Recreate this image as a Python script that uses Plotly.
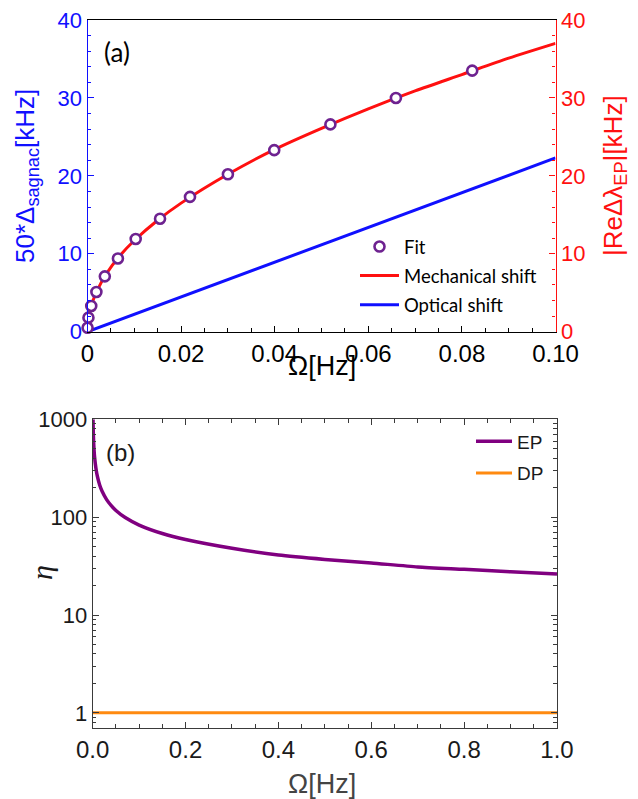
import math
import plotly.graph_objects as go

W, H = 638, 799

# ---------------- data: panel (a) ----------------
omega_curve = [0.0, 0.0002, 0.0005, 0.001, 0.002, 0.004, 0.007, 0.01, 0.015, 0.02,
               0.03, 0.04, 0.05, 0.06, 0.07, 0.08, 0.09, 0.1]
mech_shift = [0.0, 1.7, 2.6, 3.7, 5.2, 7.4, 9.8, 11.7, 14.3, 16.5,
              20.2, 23.4, 26.1, 28.6, 30.9, 33.0, 35.1, 37.0]
omega_fit = [0.00002, 0.0002, 0.0008, 0.0019, 0.0037, 0.0065, 0.0103, 0.0155,
             0.0219, 0.030, 0.0399, 0.0519, 0.0659, 0.0822]
fit_vals = [0.5, 1.8, 3.3, 5.1, 7.1, 9.4, 11.9, 14.5, 17.3, 20.2, 23.3, 26.6, 30.0, 33.5]
omega_opt = [0.0, 0.1]
opt_shift = [0.0, 22.3]

# ---------------- data: panel (b) ----------------
omega_b = [0.0007, 0.001, 0.002, 0.004, 0.007, 0.01, 0.015, 0.02, 0.03, 0.04, 0.05,
           0.07, 0.1, 0.15, 0.2, 0.3, 0.4, 0.5, 0.6, 0.7, 0.8, 0.9, 1.0]
eta_ep = [1000, 830, 590, 415, 315, 262, 213, 185, 151, 131, 117,
          99, 83, 68, 59, 48, 41, 37, 34, 31, 29.3, 27.6, 26.2]
omega_dp = [0.0, 1.0]
eta_dp = [1.0, 1.0]

xa_ticks = [0, 0.02, 0.04, 0.06, 0.08, 0.10]
xa_text = ["0", "0.02", "0.04", "0.06", "0.08", "0.10"]
ya_ticks = [0, 10, 20, 30, 40]
xb_ticks = [0.0, 0.2, 0.4, 0.6, 0.8, 1.0]

ARIAL = "Liberation Sans"
CAL = "Lato"
BLUE = "#1010ff"
RED = "#ff1010"
PURPLE = "#800080"
FITC = "#6e2290"
ORANGE = "#ff8a10"
FRAME = "#3a3a3a"

def px(x):
    return x / W

def py(y):
    return 1 - y / H

fig = go.Figure()

fig.add_trace(go.Scatter(x=omega_opt, y=opt_shift, mode="lines", name="Optical shift",
                         line=dict(color=BLUE, width=3), xaxis="x", yaxis="y",
                         legend="legend", legendrank=3, legendgroup="o"))
fig.add_trace(go.Scatter(x=omega_curve, y=mech_shift, mode="lines", name="Mechanical shift",
                         line=dict(color=RED, width=3, shape="spline", smoothing=0.8),
                         xaxis="x", yaxis="y2", legend="legend", legendrank=2, legendgroup="m"))
fig.add_trace(go.Scatter(x=omega_fit, y=fit_vals, mode="markers", name="Fit",
                         marker=dict(symbol="circle", size=10, color="white",
                                     line=dict(color=FITC, width=2.6)),
                         cliponaxis=False, xaxis="x", yaxis="y2",
                         legend="legend", legendrank=1, legendgroup="f"))

fig.add_trace(go.Scatter(x=omega_b, y=eta_ep, mode="lines", name="EP",
                         line=dict(color=PURPLE, width=3.5, shape="spline", smoothing=0.6),
                         xaxis="x2", yaxis="y3", legend="legend2", legendgroup="ep"))
fig.add_trace(go.Scatter(x=omega_dp, y=eta_dp, mode="lines", name="DP",
                         line=dict(color=ORANGE, width=3),
                         xaxis="x2", yaxis="y3", legend="legend2", legendgroup="dp"))

dom_xa = [px(87.5), px(555.5)]
dom_ya = [py(331.7), py(20)]
dom_xb = [px(92.7), px(557)]
dom_yb = [py(728), py(419.3)]

common = dict(automargin=False, showgrid=False, zeroline=False, ticklabeloverflow="allow")

fig.update_layout(
    template="none",
    width=W, height=H,
    margin=dict(l=0, r=0, t=0, b=0, autoexpand=False),
    paper_bgcolor="white", plot_bgcolor="white",
    font=dict(family=ARIAL, color="black"),
    xaxis=dict(domain=dom_xa, anchor="y", range=[0, 0.1], tickmode="array",
               tickvals=xa_ticks, ticktext=xa_text,
               showline=True, linecolor="black", linewidth=1.3, mirror=True,
               ticks="inside", ticklen=6, tickwidth=1, tickcolor="black",
               minor=dict(ticks="inside", ticklen=3.5, dtick=0.005, tick0=0, tickcolor="black",
                          showgrid=False),
               ticklabelstandoff=0,
               tickfont=dict(size=24, color="black", family=ARIAL), **common),
    yaxis=dict(domain=dom_ya, anchor="x", range=[0, 40], tickmode="array", tickvals=ya_ticks,
               showline=True, linecolor=BLUE, linewidth=1.3,
               ticks="inside", ticklen=6, tickcolor=BLUE,
               minor=dict(ticks="inside", ticklen=3.5, dtick=2, tick0=0, tickcolor=BLUE,
                          showgrid=False),
               tickfont=dict(size=22, color=BLUE, family=ARIAL), **common),
    yaxis2=dict(overlaying="y", side="right", anchor="x", range=[0, 40], tickmode="array",
                tickvals=ya_ticks,
                showline=True, linecolor=RED, linewidth=1.3,
                ticks="inside", ticklen=6, tickcolor=RED,
                minor=dict(ticks="inside", ticklen=3.5, dtick=2, tick0=0, tickcolor=RED,
                           showgrid=False),
                tickfont=dict(size=22, color=RED, family=ARIAL), **common),
    xaxis2=dict(domain=dom_xb, anchor="y3", range=[0, 1], tickmode="array", tickvals=xb_ticks,
                tickformat=".1f",
                showline=True, linecolor=FRAME, linewidth=1.3, mirror="allticks",
                ticks="inside", ticklen=6, tickcolor=FRAME,
                minor=dict(ticks="inside", ticklen=3.5, dtick=0.05, tick0=0, tickcolor=FRAME,
                           showgrid=False),
                ticklabelstandoff=0,
                tickfont=dict(size=24, color="#1a1a1a", family=ARIAL), **common),
    yaxis3=dict(domain=dom_yb, anchor="x2", type="log", range=[math.log10(0.7), 3],
                tickmode="linear", tick0=0, dtick=1,
                showline=True, linecolor=FRAME, linewidth=1.3, mirror="allticks",
                ticks="inside", ticklen=6, tickcolor=FRAME,
                minor=dict(ticks="inside", ticklen=3.5, dtick="D1", tickcolor=FRAME,
                           showgrid=False),
                tickfont=dict(size=22, color="#1a1a1a", family=ARIAL), **common),
    legend=dict(x=px(355), y=py(228), xanchor="left", yanchor="top",
                bgcolor="rgba(0,0,0,0)", borderwidth=0, traceorder="grouped",
                tracegroupgap=2, itemwidth=39,
                font=dict(family=CAL, size=18.5, color="black")),
    legend2=dict(x=px(471), y=py(422.5), xanchor="left", yanchor="top",
                 bgcolor="rgba(0,0,0,0)", borderwidth=0, traceorder="grouped",
                 tracegroupgap=4, itemwidth=36,
                 font=dict(family=ARIAL, size=19, color="#1a1a1a")),
    showlegend=True,
)

ann = [
    dict(text="(a)", x=px(117), y=py(52), font=dict(family=CAL, size=26, color="black")),
    dict(text="(b)", x=px(120), y=py(452), font=dict(family=ARIAL, size=24, color="#1a1a1a")),
    dict(text="Ω[Hz]", x=px(322), y=py(366), font=dict(family=ARIAL, size=27, color="black")),
    dict(text="Ω[Hz]", x=px(322), y=py(784), font=dict(family=ARIAL, size=27, color="#444444")),
    dict(text="50*Δ<sub>sagnac</sub>[kHz]", x=px(26), y=py(176), textangle=-90,
         font=dict(family=ARIAL, size=26, color=BLUE)),
    dict(text="|ReΔλ<sub>EP</sub>|[kHz]", x=px(614), y=py(176), textangle=-90,
         font=dict(family=ARIAL, size=26, color=RED)),
    dict(text="<i>η</i>", x=px(41), y=py(573), textangle=-90,
         font=dict(family="Liberation Serif", size=30, color="#1a1a1a")),
]
for a in ann:
    a.update(xref="paper", yref="paper", showarrow=False, xanchor="center", yanchor="middle")
fig.update_layout(annotations=ann)

fig.write_html("out.html", config={"displayModeBar": False},
               post_script="document.body.style.margin='0';")
